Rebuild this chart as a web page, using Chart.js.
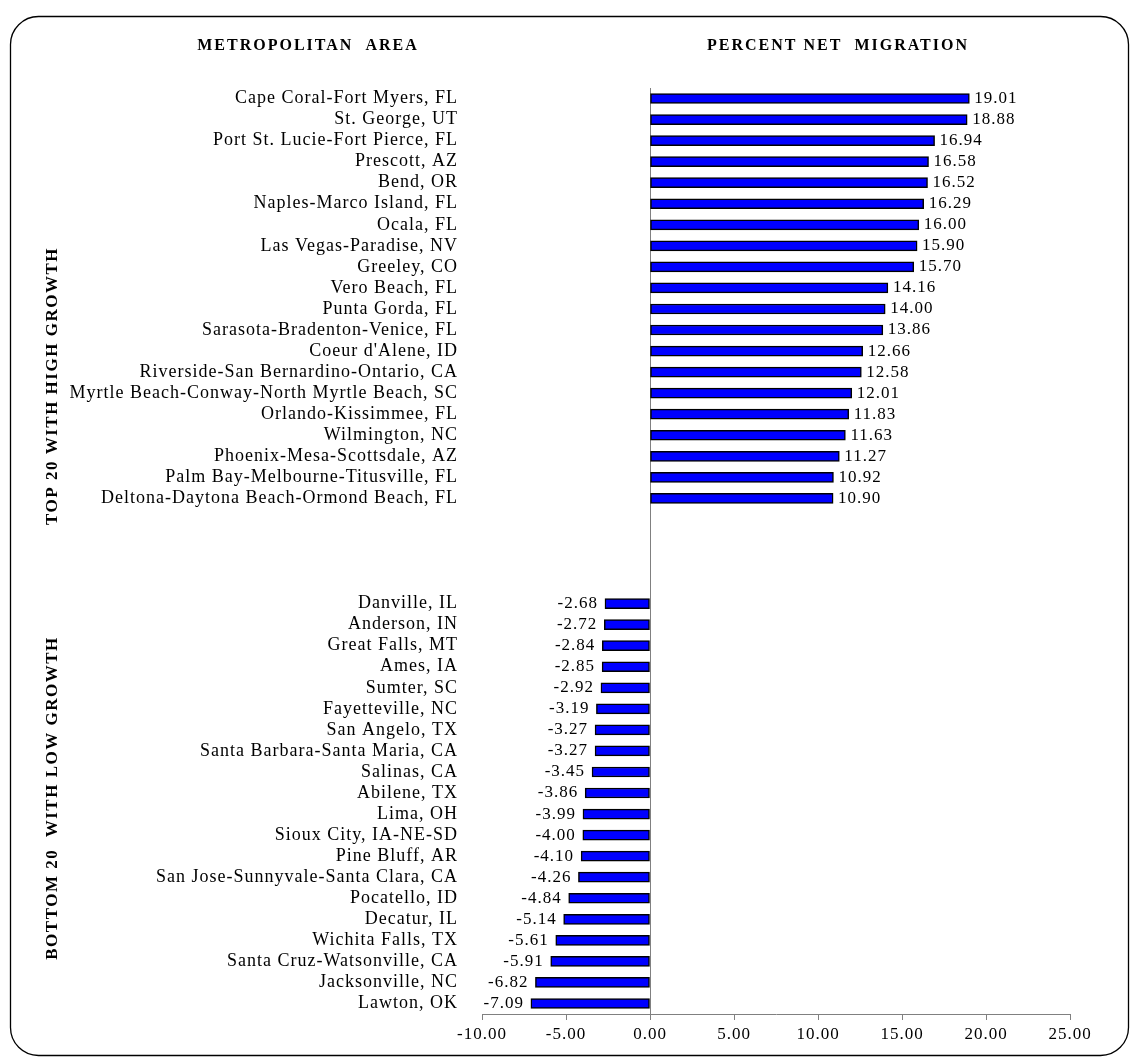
<!DOCTYPE html>
<html>
<head>
<meta charset="utf-8">
<script src="https://cdn.jsdelivr.net/npm/chart.js@4.4.0/dist/chart.umd.min.js"></script>
<style>
  html, body { margin: 0; padding: 0; background: #fff; }
  #wrap { width: 1132px; height: 1061px; }
</style>
</head>
<body>
<div id="wrap"><canvas id="chart-migration"></canvas></div>
<script>
var topAreas = ["Cape Coral-Fort Myers, FL","St. George, UT","Port St. Lucie-Fort Pierce, FL","Prescott, AZ","Bend, OR",
  "Naples-Marco Island, FL","Ocala, FL","Las Vegas-Paradise, NV","Greeley, CO","Vero Beach, FL","Punta Gorda, FL",
  "Sarasota-Bradenton-Venice, FL","Coeur d'Alene, ID","Riverside-San Bernardino-Ontario, CA",
  "Myrtle Beach-Conway-North Myrtle Beach, SC","Orlando-Kissimmee, FL","Wilmington, NC","Phoenix-Mesa-Scottsdale, AZ",
  "Palm Bay-Melbourne-Titusville, FL","Deltona-Daytona Beach-Ormond Beach, FL"];
var topValues = [19.01, 18.88, 16.94, 16.58, 16.52, 16.29, 16.00, 15.90, 15.70, 14.16,
  14.00, 13.86, 12.66, 12.58, 12.01, 11.83, 11.63, 11.27, 10.92, 10.90];

var bottomAreas = ["Danville, IL","Anderson, IN","Great Falls, MT","Ames, IA","Sumter, SC","Fayetteville, NC",
  "San Angelo, TX","Santa Barbara-Santa Maria, CA","Salinas, CA","Abilene, TX","Lima, OH","Sioux City, IA-NE-SD",
  "Pine Bluff, AR","San Jose-Sunnyvale-Santa Clara, CA","Pocatello, ID","Decatur, IL","Wichita Falls, TX",
  "Santa Cruz-Watsonville, CA","Jacksonville, NC","Lawton, OK"];
var bottomValues = [-2.68, -2.72, -2.84, -2.85, -2.92, -3.19, -3.27, -3.27, -3.45, -3.86,
  -3.99, -4.00, -4.10, -4.26, -4.84, -5.14, -5.61, -5.91, -6.82, -7.09];

var gapRows = 4;
var xTicks = [-10, -5, 0, 5, 10, 15, 20, 25];

var labels = topAreas.slice();
var values = topValues.slice();
for (var g = 0; g < gapRows; g++) { labels.push(""); values.push(null); }
labels = labels.concat(bottomAreas);
values = values.concat(bottomValues);

var serif = "'Liberation Serif', 'Times New Roman', serif";

// the old pdf text is spaced out a bit
var spacing = {
  id: 'spacing',
  beforeDraw: function(chart) { chart.ctx.letterSpacing = '1px'; }
};

// frame, headings, side labels and value labels
var decor = {
  id: 'decor',
  afterDraw: function(chart) {
    var c = chart.ctx;
    c.save();
    // rounded frame
    var x0 = 10.5, y0 = 16.5, x1 = 1128.5, y1 = 1055.5, r = 28;
    c.strokeStyle = '#000';
    c.lineWidth = 1.3;
    c.beginPath();
    c.moveTo(x0 + r, y0);
    c.lineTo(x1 - r, y0); c.arcTo(x1, y0, x1, y0 + r, r);
    c.lineTo(x1, y1 - r); c.arcTo(x1, y1, x1 - r, y1, r);
    c.lineTo(x0 + r, y1); c.arcTo(x0, y1, x0, y1 - r, r);
    c.lineTo(x0, y0 + r); c.arcTo(x0, y0, x0 + r, y0, r);
    c.stroke();

    c.fillStyle = '#000';
    c.letterSpacing = '2px';
    c.font = 'bold 16px ' + serif;
    c.textAlign = 'center';
    c.textBaseline = 'middle';
    c.fillText('METROPOLITAN  AREA', 308, 46);
    c.fillText('PERCENT NET  MIGRATION', 838, 46);

    c.letterSpacing = '1.5px';
    c.font = 'bold 17px ' + serif;
    c.save();
    c.translate(53, 386);
    c.rotate(-Math.PI / 2);
    c.fillText('TOP 20 WITH HIGH GROWTH', 0, 0);
    c.restore();
    c.save();
    c.translate(53, 798);
    c.rotate(-Math.PI / 2);
    c.fillText('BOTTOM 20  WITH LOW GROWTH', 0, 0);
    c.restore();

    // value labels
    var meta = chart.getDatasetMeta(0);
    c.letterSpacing = '1px';
    c.font = '17px ' + serif;
    meta.data.forEach(function(bar, i) {
      var v = values[i];
      if (v === null) return;
      if (v >= 0) { c.textAlign = 'left'; c.fillText(v.toFixed(2), bar.x + 5, bar.y); }
      else { c.textAlign = 'right'; c.fillText(v.toFixed(2), bar.x - 7, bar.y); }
    });
    c.restore();
  }
};

var ctx = document.getElementById("chart-migration").getContext("2d");
new Chart(ctx, {
  type: "bar",
  data: {
    labels: labels,
    datasets: [{
      label: "Percent net migration",
      data: values,
      backgroundColor: "#0000FF",
      borderColor: "#000000",
      borderWidth: 1.5,
      borderSkipped: false,
      barThickness: 10
    }]
  },
  options: {
    indexAxis: 'y',
    responsive: true,
    maintainAspectRatio: false,
    animation: false,
    layout: { padding: { top: 88, bottom: 7, left: 10, right: 62 } },
    plugins: {
      legend: { display: false },
      tooltip: { enabled: false }
    },
    scales: {
      x: {
        min: -10,
        max: 25,
        afterBuildTicks: function(scale) {
          scale.ticks = xTicks.map(function(v) { return { value: v }; });
        },
        afterFit: function(scale) { scale.height = 40; },
        grid: {
          display: true,
          drawOnChartArea: true,
          drawTicks: true,
          tickLength: 6,
          color: function(c) { return c.tick && c.tick.value === 0 ? '#808080' : 'rgba(0,0,0,0)'; },
          tickColor: '#808080'
        },
        border: { display: true, color: '#808080', width: 1 },
        ticks: {
          color: '#000',
          padding: 4,
          font: { family: serif, size: 17 },
          callback: function(v) { return Number(v).toFixed(2); }
        }
      },
      y: {
        afterFit: function(scale) { scale.width = 472; },
        grid: { display: false },
        border: { display: false },
        ticks: {
          color: '#000',
          padding: 16,
          autoSkip: false,
          font: { family: serif, size: 18 }
        }
      }
    }
  },
  plugins: [spacing, decor]
});
</script>
</body>
</html>
